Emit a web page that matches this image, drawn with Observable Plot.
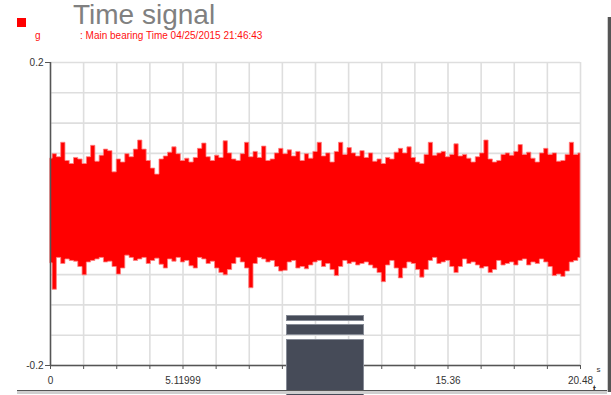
<!DOCTYPE html>
<html>
<head>
<meta charset="utf-8">
<script src="https://cdn.jsdelivr.net/npm/d3@7"></script>
<script src="https://cdn.jsdelivr.net/npm/@observablehq/plot@0.6"></script>
<style>
  html, body { margin: 0; padding: 0; background: #fff; }
  #wrap { position: relative; width: 611px; height: 395px; overflow: hidden; font-family: "Liberation Sans", Arial, sans-serif; }
  #chart { position: absolute; left: 0; top: 0; }
  .abs { position: absolute; }
  #title { left: 73px; top: 0px; font-size: 28px; line-height: 30px; color: #808080; white-space: nowrap; }
  #swatch { left: 17px; top: 18px; width: 9px; height: 9px; background: #ff0000; }
  #unitg { left: 35px; top: 30px; font-size: 10px; line-height: 12px; color: #ff1010; }
  #sub { left: 80px; top: 30px; font-size: 10px; line-height: 12px; color: #ff1010; white-space: nowrap; }
  .blk { background: #464b58; border: 1px solid #868b96; box-sizing: border-box; left: 286px; width: 78px; }
  #bottomline { left: 17px; top: 390px; width: 590px; height: 4px; background: #cfcfcf; border-top: 1px solid #555; box-sizing: border-box; }
  #rightline { left: 607px; top: 17px; width: 4px; height: 375px; background: #555; border-left: 1px solid #cfcfcf; box-sizing: border-box; }
</style>
</head>
<body>
<div id="wrap">
  <div id="chart"></div>
  <div class="abs" id="swatch"></div>
  <div class="abs" id="title"></div>
  <div class="abs" id="unitg"></div>
  <div class="abs" id="sub"></div>
  <div class="abs blk" style="top:315px;height:6px;"></div>
  <div class="abs blk" style="top:324px;height:11px;"></div>
  <div class="abs blk" style="top:339px;height:60px;"></div>
  <div class="abs" id="bottomline"></div>
  <div class="abs" id="rightline"></div>
</div>
<script>
// ---- text ----
const titleText = "Time signal";
const seriesUnit = "g";
const seriesLabel = ": Main bearing Time 04/25/2015 21:46:43";
const xUnit = "s";

// ---- axes ----
const xDomain = [0, 20.48];
const yDomain = [-0.2, 0.2];
const xTickValues = [0, 1.28, 2.56, 3.84, 5.12, 6.4, 7.68, 8.96, 10.24, 11.52, 12.8, 14.08, 15.36, 16.64, 17.92, 19.2, 20.48];
const xLabelValues = [0, 5.12, 15.36, 20.48];
const xLabels = ["0", "5.11999", "15.36", "20.48"];
const yGridValues = [0.2, 0.16, 0.12, 0.08, 0.04, 0, -0.04, -0.08, -0.12, -0.16, -0.2];
const yLabelValues = [0.2, -0.2];
const yLabels = ["0.2", "-0.2"];

// ---- signal envelope (g), evenly spaced over 0..20.48 s ----
const upper = [0.073,0.079,0.075,0.094,0.070,0.066,0.074,0.072,0.066,0.075,0.090,0.069,0.077,0.085,0.083,0.055,
0.072,0.068,0.079,0.075,0.085,0.097,0.085,0.070,0.060,0.052,0.072,0.076,0.081,0.088,0.079,0.070,
0.073,0.068,0.074,0.086,0.093,0.075,0.070,0.077,0.074,0.096,0.080,0.072,0.070,0.079,0.094,0.075,
0.082,0.074,0.089,0.070,0.072,0.080,0.086,0.079,0.084,0.076,0.082,0.070,0.079,0.073,0.082,0.094,
0.076,0.080,0.068,0.082,0.094,0.078,0.087,0.080,0.076,0.083,0.074,0.080,0.069,0.072,0.066,0.074,
0.072,0.081,0.086,0.080,0.088,0.074,0.068,0.066,0.078,0.094,0.077,0.080,0.082,0.075,0.078,0.092,
0.076,0.078,0.073,0.068,0.075,0.080,0.097,0.072,0.068,0.070,0.078,0.080,0.077,0.082,0.091,0.078,
0.081,0.073,0.068,0.080,0.086,0.078,0.080,0.069,0.070,0.078,0.094,0.078,0.080];
const lower = [-0.065,-0.100,-0.058,-0.066,-0.060,-0.062,-0.063,-0.070,-0.081,-0.064,-0.062,-0.060,-0.058,-0.064,-0.063,-0.070,
-0.080,-0.072,-0.055,-0.058,-0.062,-0.060,-0.058,-0.066,-0.062,-0.059,-0.067,-0.072,-0.060,-0.063,-0.058,-0.064,
-0.062,-0.069,-0.072,-0.058,-0.060,-0.066,-0.063,-0.072,-0.078,-0.081,-0.074,-0.066,-0.058,-0.064,-0.072,-0.098,
-0.066,-0.058,-0.060,-0.064,-0.062,-0.070,-0.076,-0.075,-0.064,-0.062,-0.072,-0.070,-0.073,-0.068,-0.064,-0.062,
-0.070,-0.066,-0.074,-0.082,-0.070,-0.062,-0.066,-0.064,-0.068,-0.066,-0.064,-0.068,-0.072,-0.078,-0.090,-0.068,
-0.062,-0.072,-0.085,-0.072,-0.064,-0.066,-0.074,-0.084,-0.074,-0.062,-0.058,-0.066,-0.064,-0.062,-0.070,-0.078,
-0.070,-0.060,-0.066,-0.064,-0.068,-0.072,-0.070,-0.078,-0.074,-0.062,-0.068,-0.066,-0.064,-0.068,-0.062,-0.060,
-0.068,-0.064,-0.066,-0.060,-0.064,-0.070,-0.082,-0.080,-0.083,-0.076,-0.064,-0.062,-0.058,-0.066,-0.070,-0.073,-0.078];

const n = Math.min(upper.length, lower.length);
const signal = d3.range(n).map(i => ({t: xDomain[1] * i / (n - 1), hi: upper[i], lo: lower[i]}));
const xLabelMap = new Map(xLabelValues.map((v, i) => [v, xLabels[i]]));
const yLabelMap = new Map(yLabelValues.map((v, i) => [v, yLabels[i]]));

document.getElementById("title").textContent = titleText;
document.getElementById("unitg").textContent = seriesUnit;
document.getElementById("sub").textContent = seriesLabel;

const chart = Plot.plot({
  width: 611,
  height: 395,
  marginLeft: 50,
  marginRight: 31,
  marginTop: 62,
  marginBottom: 30,
  x: {domain: xDomain, axis: null},
  y: {domain: yDomain, axis: null},
  style: {fontFamily: "'Liberation Sans', Arial, sans-serif", fontSize: "10px", color: "#333", background: "transparent"},
  marks: [
    Plot.gridX(xTickValues, {stroke: "#dedede", strokeOpacity: 1, strokeWidth: 1.6}),
    Plot.gridY(yGridValues, {stroke: "#dedede", strokeOpacity: 1, strokeWidth: 1.6}),
    Plot.areaY(signal, {x: "t", y1: "lo", y2: "hi", curve: "step", fill: "#ff0000", stroke: "#ff8080", strokeWidth: 0.8}),
    Plot.ruleX([xDomain[0]], {y1: yDomain[0], y2: yDomain[1], stroke: "#555", strokeWidth: 1.5}),
    Plot.ruleY([yDomain[0]], {x1: xDomain[0], x2: xDomain[1], stroke: "#555", strokeWidth: 1.5}),
    Plot.axisX(xTickValues, {anchor: "bottom", tickSize: 4, tickFormat: () => "", stroke: "#555"}),
    Plot.axisX(xLabelValues, {anchor: "bottom", tickSize: 0, tickPadding: 11, tickFormat: d => xLabelMap.get(d), fill: "#333", fontSize: 10}),
    Plot.axisY(yLabelValues, {anchor: "left", tickSize: 5, tickPadding: 2, tickFormat: d => yLabelMap.get(d), stroke: "#555", fill: "#333", fontSize: 10}),
    Plot.text([xUnit], {x: xDomain[1], y: yDomain[0], text: d => d, dx: 18, dy: 4, fontSize: 8, fill: "#333"})
  ]
});
document.getElementById("chart").appendChild(chart);
</script>
</body>
</html>
